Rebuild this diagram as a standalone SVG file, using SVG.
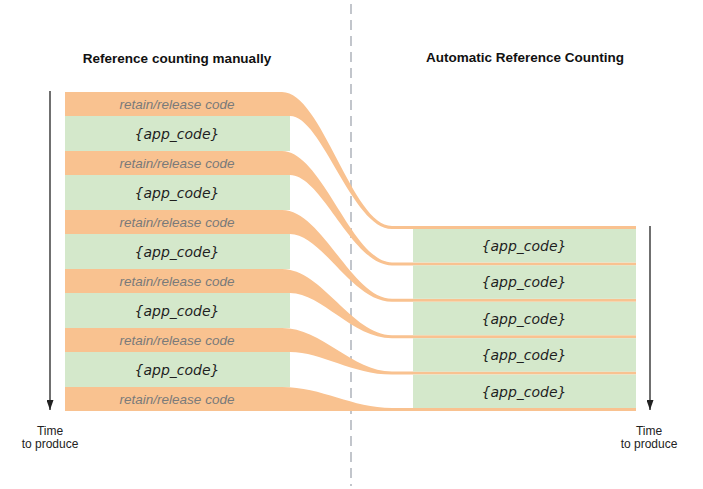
<svg xmlns="http://www.w3.org/2000/svg" width="703" height="489" viewBox="0 0 703 489">
<style>
.rr{fill:#F9C290}
.app{fill:#D4E8CB}
.rrt{font-family:"Liberation Sans",Arial,sans-serif;font-style:italic;font-size:13.5px;fill:#7a7a7a;text-anchor:middle}
.apt{font-family:"DejaVu Sans",Verdana,sans-serif;font-style:oblique;font-size:14px;fill:#1e1e1e;text-anchor:middle}
.hd{font-family:"Liberation Sans",Arial,sans-serif;font-weight:bold;font-size:13.5px;fill:#111;text-anchor:middle}
.tm{font-family:"Liberation Sans",Arial,sans-serif;font-size:12px;fill:#222;text-anchor:middle}
.ax{stroke:#222;stroke-width:1.3;fill:none}
</style>
<defs>
<marker id="ah" markerWidth="10" markerHeight="7" refX="10" refY="3.5" orient="auto" markerUnits="userSpaceOnUse" viewBox="0 0 10 7">
<path d="M0,0 L10,3.5 L0,7 Z" fill="#222"/>
</marker>
</defs>
<rect width="703" height="489" fill="#fff"/>
<line x1="351" y1="4" x2="351" y2="486" stroke="#9aa0aa" stroke-width="1.2" stroke-dasharray="10,6"/>
<text class="hd" x="177" y="63">Reference counting manually</text>
<text class="hd" x="525" y="62">Automatic Reference Counting</text>

<g id="rr0"><path class="rr" d="M65,92 H282 C322,92 352,226 392,226 H636 V229 H392 C352,229 322,116 290,116 H65 Z"/><text class="rrt" x="177" y="108.5">retain/release code</text></g>
<g id="rr1"><path class="rr" d="M65,151 H282 C322,151 352,262.4 392,262.4 H636 V265.4 H392 C352,265.4 322,175 290,175 H65 Z"/><text class="rrt" x="177" y="167.5">retain/release code</text></g>
<g id="rr2"><path class="rr" d="M65,210 H282 C322,210 352,298.8 392,298.8 H636 V301.8 H392 C352,301.8 322,234 290,234 H65 Z"/><text class="rrt" x="177" y="226.5">retain/release code</text></g>
<g id="rr3"><path class="rr" d="M65,269 H282 C322,269 352,335.2 392,335.2 H636 V338.2 H392 C352,338.2 322,293 290,293 H65 Z"/><text class="rrt" x="177" y="285.5">retain/release code</text></g>
<g id="rr4"><path class="rr" d="M65,328 H282 C322,328 352,371.6 392,371.6 H636 V374.6 H392 C352,374.6 322,352 290,352 H65 Z"/><text class="rrt" x="177" y="344.5">retain/release code</text></g>
<g id="rr5"><path class="rr" d="M65,387 H282 C322,387 352,408 392,408 H636 V411 H65 Z"/><text class="rrt" x="177" y="403.5">retain/release code</text></g>

<g id="app0"><rect class="app" x="65" y="116" width="225" height="35"/><text class="apt" x="177" y="138.5">{app_code}</text></g>
<g id="app1"><rect class="app" x="65" y="175" width="225" height="35"/><text class="apt" x="177" y="197.5">{app_code}</text></g>
<g id="app2"><rect class="app" x="65" y="234" width="225" height="35"/><text class="apt" x="177" y="256.5">{app_code}</text></g>
<g id="app3"><rect class="app" x="65" y="293" width="225" height="35"/><text class="apt" x="177" y="315.5">{app_code}</text></g>
<g id="app4"><rect class="app" x="65" y="352" width="225" height="35"/><text class="apt" x="177" y="374.5">{app_code}</text></g>

<g id="arc0"><rect class="app" x="413" y="229" width="223" height="33.4"/><text class="apt" x="524" y="250.5">{app_code}</text></g>
<g id="arc1"><rect class="app" x="413" y="265.4" width="223" height="33.4"/><text class="apt" x="524" y="287">{app_code}</text></g>
<g id="arc2"><rect class="app" x="413" y="301.8" width="223" height="33.4"/><text class="apt" x="524" y="323.5">{app_code}</text></g>
<g id="arc3"><rect class="app" x="413" y="338.2" width="223" height="33.4"/><text class="apt" x="524" y="360">{app_code}</text></g>
<g id="arc4"><rect class="app" x="413" y="374.6" width="223" height="33.4"/><text class="apt" x="524" y="396.5">{app_code}</text></g>

<g id="connectors">
<line class="ax" x1="50" y1="91" x2="50" y2="410" marker-end="url(#ah)"/>
<line class="ax" x1="650" y1="226" x2="650" y2="410" marker-end="url(#ah)"/>
</g>
<g id="time-left"><text class="tm" x="50" y="435">Time</text><text class="tm" x="50" y="448">to produce</text></g>
<g id="time-right"><text class="tm" x="649" y="435">Time</text><text class="tm" x="649" y="448">to produce</text></g>
</svg>
